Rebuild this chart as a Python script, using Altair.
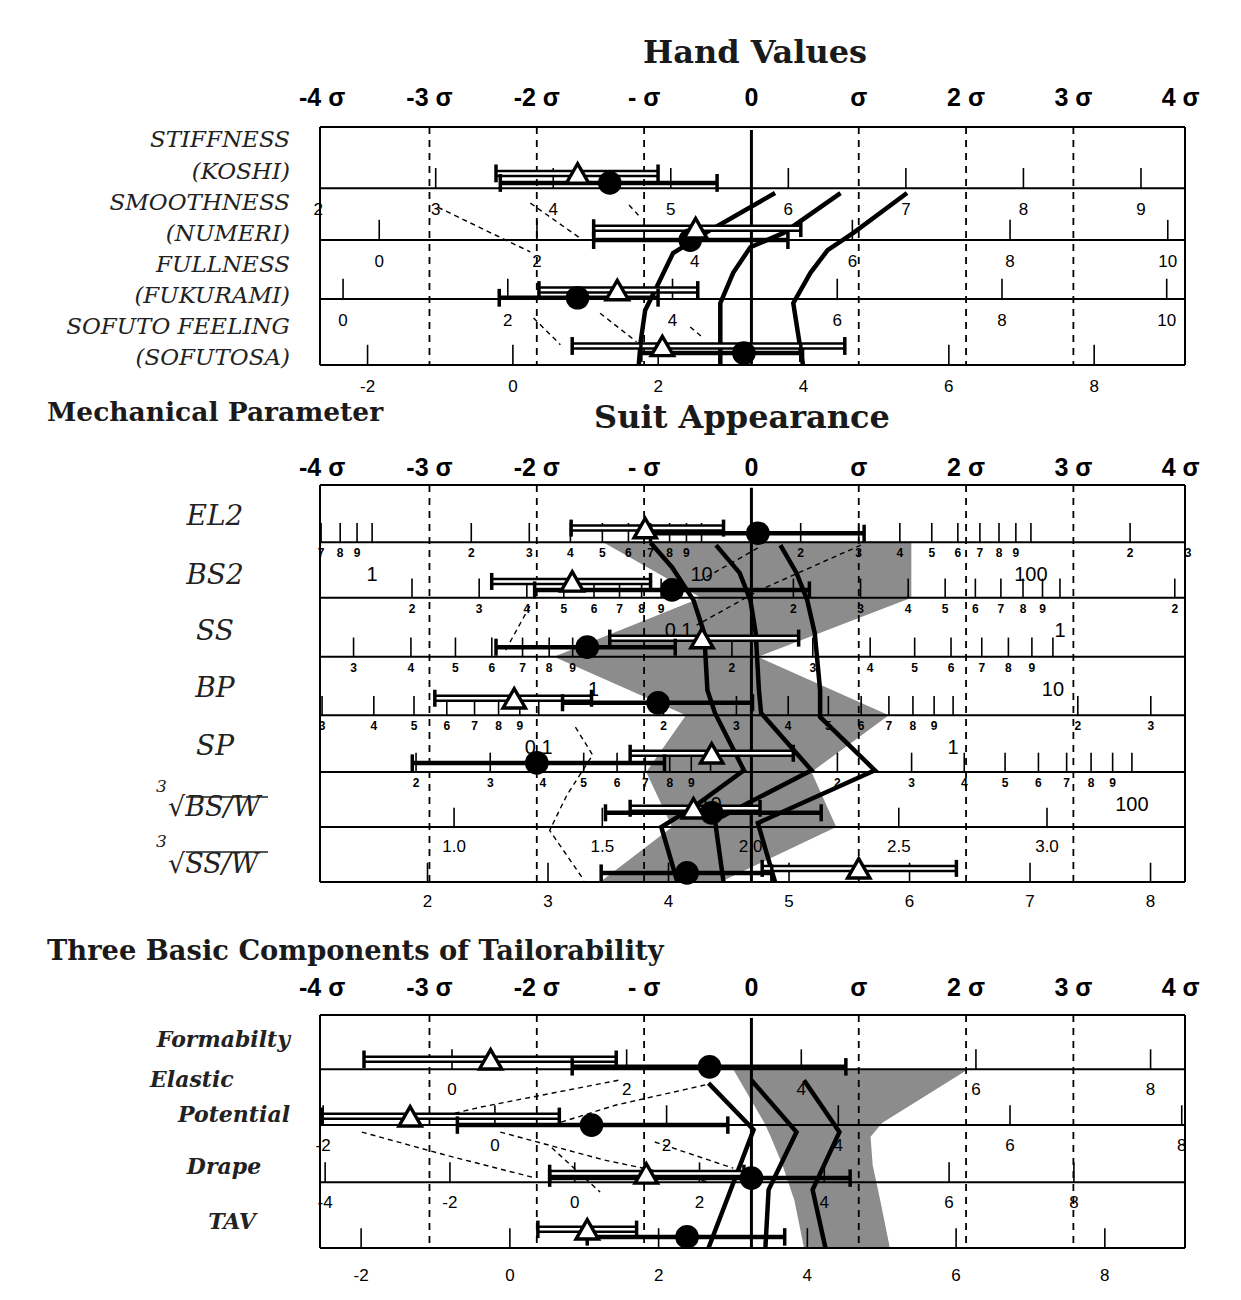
import math
import altair as alt
import pandas as pd

# ---------------- common ----------------
XMIN, XMAX = -4.02, 4.04
PLOT_W = 865
SIGMA_VALUES = [-4, -3, -2, -1, 0, 1, 2, 3, 4]
SIGMA_LABELS = ["-4 σ", "-3 σ", "-2 σ", "- σ", "0", "σ", "2 σ", "3 σ", "4 σ"]
DASHED_SIGMAS = [-3, -2, -1, 1, 2, 3]

SERIF = "DejaVu Serif"
SANS = "Liberation Sans"

# ---------------- Panel 1 : Hand Values ----------------
P1_NAME_1 = ["STIFFNESS", "SMOOTHNESS", "FULLNESS", "SOFUTO FEELING"]
P1_NAME_2 = ["(KOSHI)", "(NUMERI)", "(FUKURAMI)", "(SOFUTOSA)"]
P1_TRI = [-1.62, -0.52, -1.25, -0.83]
P1_TRI_LO = [-2.38, -1.47, -1.98, -1.67]
P1_TRI_HI = [-0.87, 0.46, -0.50, 0.87]
P1_TRI_Y = [0.78, 1.70, 2.74, 3.68]
P1_CIR = [-1.32, -0.57, -1.62, -0.07]
P1_CIR_LO = [-2.34, -1.47, -2.35, -1.03]
P1_CIR_HI = [-0.32, 0.34, -0.87, 0.46]
P1_CIR_Y = [0.94, 1.90, 2.87, 3.80]
P1_KIND = ["lin", "lin", "lin", "lin"]
P1_MEAN = [5.686, 4.72, 4.958, 3.283]
P1_SD = [0.913, 1.361, 1.303, 1.477]
P1_TICKS = [[2, 3, 4, 5, 6, 7, 8, 9], [0, 2, 4, 6, 8, 10], [0, 2, 4, 6, 8, 10], [-2, 0, 2, 4, 6, 8]]
P1_FMT = ["{:g}"] * 4
P1_LINES_X = [
    [0.22, -0.38, -0.73, -0.91, -0.99, -1.03, -1.05],
    [0.83, 0.30, -0.01, -0.17, -0.29, -0.29],
    [1.45, 0.95, 0.71, 0.55, 0.39, 0.48],
]
P1_LINES_Y = [
    [1.11, 1.73, 2.12, 2.79, 3.08, 3.58, 4.0],
    [1.11, 1.78, 2.02, 2.45, 2.96, 4.0],
    [1.11, 1.78, 2.07, 2.45, 2.96, 4.0],
]
P1_DASH_X = [[-2.92, -2.06], [-2.06, -1.61], [-1.14, -1.03], [-2.03, -1.78], [-1.41, -1.07], [-0.57, -0.46]]
P1_DASH_Y = [[1.35, 2.10], [1.28, 1.85], [1.31, 1.53], [3.21, 3.66], [3.13, 3.61], [3.36, 3.53]]

# ---------------- Panel 2 : Mechanical Parameter / Suit Appearance ----------------
P2_NAMES = ["EL2", "BS2", "SS", "BP", "SP"]
P2_RAD_NAMES = ["√BS/W", "√SS/W"]
P2_TRI = [-0.99, -1.67, -0.46, -2.21, -0.37, -0.54, 1.00]
P2_TRI_LO = [-1.68, -2.42, -1.32, -2.95, -1.13, -1.13, 0.10]
P2_TRI_HI = [-0.26, -0.94, 0.44, -1.49, 0.39, 0.08, 1.91]
P2_TRI_Y = [0.76, 1.70, 2.70, 3.76, 4.73, 5.70, 6.76]
P2_CIR = [0.06, -0.74, -1.53, -0.87, -2.00, -0.37, -0.60]
P2_CIR_LO = [-0.94, -2.02, -2.38, -1.76, -3.16, -1.36, -1.40]
P2_CIR_HI = [1.05, 0.54, -0.71, 0.01, -0.81, 0.65, 0.19]
P2_CIR_Y = [0.85, 1.85, 2.86, 3.84, 4.90, 5.78, 6.84]
P2_KIND = ["log", "log", "log", "log", "log", "lin", "lin"]
P2_MEAN = [1.1515, -0.809, 0.3435, -0.4867, 1.097, 2.003, 4.688]
P2_SD = [0.3258, 0.2814, 0.2337, 0.259, 0.2547, 0.362, 0.8906]
P2_LOG_RANGE = [(0.7, 300), (0.02, 2), (0.3, 10), (0.03, 3), (2, 100)]
P2_LIN_TICKS = [[1.0, 1.5, 2.0, 2.5, 3.0], [2, 3, 4, 5, 6, 7, 8]]
P2_FMT = ["", "", "", "", "", "{:.1f}", "{:g}"]
P2_LINES_X = [
    [-0.94, -0.74, -0.54, -0.44, -0.41, -0.34, -0.07, -0.54, -0.84, -0.69],
    [-0.33, -0.11, -0.01, 0.04, 0.07, 0.09, 0.56, -0.34, -0.26],
    [0.27, 0.42, 0.52, 0.59, 0.64, 0.64, 1.15, 0.06, 0.22],
]
P2_LINES_Y = [
    [1.02, 1.45, 2.03, 2.61, 3.62, 4.02, 5.03, 5.68, 6.03, 7.0],
    [1.06, 1.55, 2.03, 2.61, 3.62, 4.02, 5.03, 5.91, 7.0],
    [1.06, 1.55, 2.03, 2.61, 3.62, 4.09, 5.03, 5.96, 7.0],
]
P2_BAND_Y = [1.0, 1.99, 3.03, 4.06, 5.06, 6.03, 7.0]
P2_BAND_L = [-1.39, -0.47, -1.84, -0.61, -0.98, -0.74, -1.41]
P2_BAND_R = [1.49, 1.49, 0.06, 1.28, 0.56, 0.79, -0.29]
P2_DASH_X = [[1.02, 0.08, -0.51], [0.06, -0.47], [-2.29, -2.06], [-1.64, -1.48, -1.72, -1.88, -1.56]]
P2_DASH_Y = [[1.06, 1.85, 2.47], [1.11, 1.68], [2.91, 2.12], [4.27, 4.76, 5.47, 6.09, 6.97]]

# ---------------- Panel 3 : Three Basic Components of Tailorability ----------------
P3_NAMES = ["Formabilty", "Elastic", "Potential", "Drape", "TAV"]
P3_TRI = [-2.43, -3.18, -0.98, -1.53]
P3_TRI_LO = [-3.61, -4.0, -1.88, -1.99]
P3_TRI_HI = [-1.26, -1.79, -0.07, -1.07]
P3_TRI_Y = [0.76, 1.74, 2.72, 3.68]
P3_CIR = [-0.39, -1.49, 0.0, -0.60]
P3_CIR_LO = [-1.67, -2.74, -1.88, -1.53]
P3_CIR_HI = [0.88, -0.22, 0.92, 0.31]
P3_CIR_Y = [0.89, 1.89, 2.80, 3.81]
P3_KIND = ["lin", "lin", "lin", "lin"]
P3_MEAN = [3.429, 2.988, 2.832, 3.248]
P3_SD = [1.229, 1.25, 1.72, 1.443]
P3_TICKS = [[0, 2, 4, 6, 8], [-2, 0, 2, 4, 6, 8], [-4, -2, 0, 2, 4, 6, 8], [-2, 0, 2, 4, 6, 8]]
P3_FMT = ["{:g}"] * 4
P3_LINES_X = [[-0.40, 0.02, -0.40], [0.0, 0.42, 0.16, 0.13], [0.49, 0.82, 0.57, 0.69]]
P3_LINES_Y = [[1.17, 1.97, 4.0], [1.12, 2.01, 3.0, 4.0], [1.12, 2.01, 3.0, 4.0]]
P3_BAND_Y = [0.93, 1.85, 2.09, 2.58, 3.18, 4.0]
P3_BAND_L = [-0.17, 0.12, 0.18, 0.29, 0.40, 0.49]
P3_BAND_R = [2.02, 1.22, 1.11, 1.13, 1.20, 1.29]
P3_DASH_X = [[-1.24, -2.52, -2.96], [-0.43, -1.27, -1.86], [-3.63, -2.86, -2.01],
             [-2.34, -1.37, -0.39], [-1.86, -1.41], [-0.90, -0.17]]
P3_DASH_Y = [[1.12, 1.58, 1.77], [1.20, 1.55, 1.89], [2.01, 2.40, 2.80],
             [2.01, 2.49, 2.87], [2.28, 3.04], [2.18, 2.63]]

# ---------------- layout styles ----------------
P1_EDGES = [0, 1.03, 1.90, 2.89, 4.0]
P2_EDGES = [0, 1.01, 1.99, 3.03, 4.06, 5.06, 6.03, 7.0]
P3_EDGES = [0, 0.93, 1.89, 2.87, 4.0]

XSCALE = alt.Scale(domain=[XMIN, XMAX], nice=False, zero=False)


def decade_ticks(lo, hi):
    out = []
    k = math.floor(math.log10(lo))
    while 10 ** k <= hi * 1.001:
        for m in range(1, 10):
            v = m * 10 ** k
            if lo * 0.999 <= v <= hi * 1.001:
                out.append(v)
        k += 1
    return out


P2_TICKS = [decade_ticks(lo, hi) for lo, hi in P2_LOG_RANGE] + P2_LIN_TICKS


def to_sigma(v, kind, mean, sd):
    if kind == "log":
        return (math.log10(v) - mean) / sd
    return (v - mean) / sd


def make_panel(n, edges, ymin, height, tri, tri_lo, tri_hi, tri_y, cir, cir_lo, cir_hi, cir_y,
               kinds, means, sds, ticks, fmts, lab_dy, bottom_dy, lines_x, lines_y,
               dash_x, dash_y, band, sigma_dy, extra_layers, lin_size=17):
    ysc = alt.Scale(domain=[ymin, n], reverse=True, nice=False, zero=False)

    def X(f):
        return alt.X(f, type="quantitative", scale=XSCALE, axis=None)

    def Y(f):
        return alt.Y(f, type="quantitative", scale=ysc, axis=None)

    layers = []
    if band is not None:
        by, bl, br = band
        layers.append(alt.Chart(pd.DataFrame({"y": by, "l": bl, "r": br}))
                      .mark_area(orient="horizontal", color="#8c8c8c", opacity=1)
                      .encode(y=Y("y"), x=X("l"), x2="r"))
    layers.append(alt.Chart(pd.DataFrame({"x": DASHED_SIGMAS, "y1": 0, "y2": n}))
                  .mark_rule(color="black", strokeWidth=1.8, strokeDash=[7, 6])
                  .encode(x=X("x"), y=Y("y1"), y2="y2"))
    layers.append(alt.Chart(pd.DataFrame({"y": edges, "x1": XMIN, "x2": XMAX}))
                  .mark_rule(color="black", strokeWidth=2)
                  .encode(y=Y("y"), x=X("x1"), x2="x2"))
    layers.append(alt.Chart(pd.DataFrame({"x": [XMIN, XMAX], "y1": 0, "y2": n}))
                  .mark_rule(color="black", strokeWidth=2)
                  .encode(x=X("x"), y=Y("y1"), y2="y2"))
    layers.append(alt.Chart(pd.DataFrame({"x": [0], "y1": [0.05], "y2": [n]}))
                  .mark_rule(color="black", strokeWidth=3)
                  .encode(x=X("x"), y=Y("y1"), y2="y2"))
    tick_rows, lin_in, lin_last, log_small, log_big = [], [], [], [], []
    for i in range(n):
        base = edges[i + 1]
        for v in ticks[i]:
            s = to_sigma(v, kinds[i], means[i], sds[i])
            if XMIN <= s <= XMAX:
                tick_rows.append({"x": s, "y1": base, "y2": base - 0.34})
            if XMIN - 0.06 <= s <= XMAX + 0.06:
                if kinds[i] == "log":
                    m = round(v / 10 ** math.floor(math.log10(v) + 1e-9))
                    if m == 1:
                        log_big.append({"x": s, "y": base, "t": f"{v:g}"})
                    else:
                        log_small.append({"x": s, "y": base, "t": str(m)})
                else:
                    row = {"x": s, "y": base, "t": fmts[i].format(v)}
                    (lin_last if i == n - 1 else lin_in).append(row)
    layers.append(alt.Chart(pd.DataFrame(tick_rows)).mark_rule(color="black", strokeWidth=1.6)
                  .encode(x=X("x"), y=Y("y1"), y2="y2"))
    for rows, size, weight, dy in [(lin_in, lin_size, "normal", lab_dy), (lin_last, lin_size, "normal", bottom_dy),
                                   (log_small, 12, "bold", 11), (log_big, 20, "normal", 33)]:
        if rows:
            layers.append(alt.Chart(pd.DataFrame(rows))
                          .mark_text(font=SANS, fontSize=size, fontWeight=weight, dy=dy, baseline="middle")
                          .encode(x=X("x"), y=Y("y"), text="t:N"))
    drows = []
    for k, (xx, yy) in enumerate(zip(dash_x, dash_y)):
        for j, (a, b) in enumerate(zip(xx, yy)):
            drows.append({"seg": k, "o": j, "x": a, "y": b})
    layers.append(alt.Chart(pd.DataFrame(drows))
                  .mark_line(color="black", strokeWidth=1.4, strokeDash=[5, 4])
                  .encode(x=X("x"), y=Y("y"), detail="seg:N", order="o:Q"))
    lrows = []
    for k, (xx, yy) in enumerate(zip(lines_x, lines_y)):
        for j, (a, b) in enumerate(zip(xx, yy)):
            lrows.append({"line": k, "o": j, "x": a, "y": b})
    layers.append(alt.Chart(pd.DataFrame(lrows))
                  .mark_line(color="black", strokeWidth=4.5)
                  .encode(x=X("x"), y=Y("y"), detail="line:N", order="o:Q"))
    tdf = pd.DataFrame({"m": tri, "lo": tri_lo, "hi": tri_hi, "y": tri_y})
    cdf = pd.DataFrame({"m": cir, "lo": cir_lo, "hi": cir_hi, "y": cir_y})
    layers.append(alt.Chart(cdf).mark_rule(color="black", strokeWidth=4.5)
                  .encode(x=X("lo"), x2="hi", y=Y("y")))
    layers.append(alt.Chart(tdf).mark_rule(color="black", strokeWidth=7.5)
                  .encode(x=X("lo"), x2="hi", y=Y("y")))
    layers.append(alt.Chart(tdf).mark_rule(color="white", strokeWidth=2.5)
                  .encode(x=X("lo"), x2="hi", y=Y("y")))
    caps = []
    for df in (tdf, cdf):
        for _, r in df.iterrows():
            for v in (r["lo"], r["hi"]):
                caps.append({"x": v, "y1": r["y"] - 0.15, "y2": r["y"] + 0.15})
    layers.append(alt.Chart(pd.DataFrame(caps)).mark_rule(color="black", strokeWidth=3.5)
                  .encode(x=X("x"), y=Y("y1"), y2="y2"))
    layers.append(alt.Chart(cdf).mark_circle(size=560, color="black", opacity=1)
                  .encode(x=X("m"), y=Y("y")))
    layers.append(alt.Chart(tdf).mark_point(shape="triangle-up", size=500, filled=True, fill="white",
                                            stroke="black", strokeWidth=3.4, opacity=1)
                  .encode(x=X("m"), y=Y("y")))
    layers.append(alt.Chart(pd.DataFrame({"x": SIGMA_VALUES, "t": SIGMA_LABELS, "y": 0}))
                  .mark_text(font=SANS, fontSize=25, fontWeight="bold", dy=-sigma_dy, baseline="middle")
                  .encode(x=X("x"), y=Y("y"), text="t:N"))
    layers += [f(Y) for f in extra_layers]
    return alt.layer(*layers).properties(width=PLOT_W, height=height)


def text_const(t, x, y, size, weight="bold", align="center", style="normal"):
    return alt.Chart(pd.DataFrame({"t": [t]})).mark_text(
        font=SERIF, fontSize=size, fontWeight=weight, align=align, baseline="middle", fontStyle=style,
        color="#1a1a1a"
    ).encode(text="t:N", x=alt.value(x), y=alt.value(y))


P1_NAME_Y1 = [0.22, 1.28, 2.32, 3.36]
P1_NAME_Y2 = [0.76, 1.80, 2.84, 3.88]


def p1_names(Y):
    df = pd.DataFrame({"a": P1_NAME_1, "b": P1_NAME_2, "y1": P1_NAME_Y1, "y2": P1_NAME_Y2})
    base = alt.Chart(df).mark_text(font=SERIF, fontSize=23, fontStyle="italic", align="right",
                                   baseline="middle", color="#222")
    return alt.layer(
        base.encode(text="a:N", x=alt.value(-30), y=Y("y1")),
        base.encode(text="b:N", x=alt.value(-30), y=Y("y2")),
        text_const("Hand Values", 435, -74, 32),
    )


P2_NAME_Y = [0.56, 1.60, 2.60, 3.60, 4.62]
P2_RAD_Y = [5.70, 6.70]
P2_RAD3_Y = [5.33, 6.30]
P2_RADBAR_Y = [5.50, 6.47]


def p2_names(Y):
    df = pd.DataFrame({"t": P2_NAMES, "y": P2_NAME_Y})
    rad = pd.DataFrame({"t": P2_RAD_NAMES, "y": P2_RAD_Y, "y3": P2_RAD3_Y, "yb": P2_RADBAR_Y, "three": ["3", "3"]})
    return alt.layer(
        alt.Chart(df).mark_text(font=SERIF, fontSize=28, fontStyle="italic", align="center", baseline="middle",
                                color="#222").encode(text="t:N", x=alt.value(-105), y=Y("y")),
        alt.Chart(rad).mark_text(font=SERIF, fontSize=27, fontStyle="italic", align="left", baseline="middle",
                                 color="#222").encode(text="t:N", x=alt.value(-152), y=Y("y")),
        alt.Chart(rad).mark_text(font=SERIF, fontSize=17, fontStyle="italic", align="left", baseline="middle",
                                 color="#222").encode(text="three:N", x=alt.value(-164), y=Y("y3")),
        alt.Chart(rad).mark_rule(color="#222", strokeWidth=1.5).encode(
            x=alt.value(-134), x2=alt.value(-52), y=Y("yb")),
        text_const("Suit Appearance", 422, -67, 32),
        text_const("Mechanical Parameter", -273, -72, 26.5, align="left"),
    )


P3_NAME_X = [-30, -170, -30, -96, -88]
P3_NAME_ALIGN = ["right", "left", "right", "center", "center"]
P3_NAME_Y = [0.43, 1.12, 1.72, 2.61, 3.55]


def p3_names(Y):
    layers = []
    for t, x, a, y in zip(P3_NAMES, P3_NAME_X, P3_NAME_ALIGN, P3_NAME_Y):
        layers.append(alt.Chart(pd.DataFrame({"t": [t], "y": [y]})).mark_text(
            font=SERIF, fontSize=22, fontStyle="italic", fontWeight="bold", align=a, baseline="middle",
            color="#222").encode(text="t:N", x=alt.value(x), y=Y("y")))
    layers.append(text_const("Three Basic Components of Tailorability", -273, -50, 27.3, align="left"))
    return alt.layer(*layers)


p1 = make_panel(4, P1_EDGES, 0, 238, P1_TRI, P1_TRI_LO, P1_TRI_HI, P1_TRI_Y, P1_CIR, P1_CIR_LO, P1_CIR_HI,
                P1_CIR_Y, P1_KIND, P1_MEAN, P1_SD, P1_TICKS, P1_FMT, 22, 22, P1_LINES_X, P1_LINES_Y,
                P1_DASH_X, P1_DASH_Y, None, 29, [p1_names])
p2 = make_panel(7, P2_EDGES, 0, 397, P2_TRI, P2_TRI_LO, P2_TRI_HI, P2_TRI_Y, P2_CIR, P2_CIR_LO, P2_CIR_HI,
                P2_CIR_Y, P2_KIND, P2_MEAN, P2_SD, P2_TICKS, P2_FMT, 20, 20, P2_LINES_X, P2_LINES_Y,
                P2_DASH_X, P2_DASH_Y, (P2_BAND_Y, P2_BAND_L, P2_BAND_R), 17, [p2_names])
p3 = make_panel(4, P3_EDGES, -0.223, 246, P3_TRI, P3_TRI_LO, P3_TRI_HI, P3_TRI_Y, P3_CIR, P3_CIR_LO, P3_CIR_HI,
                P3_CIR_Y, P3_KIND, P3_MEAN, P3_SD, P3_TICKS, P3_FMT, 21, 28, P3_LINES_X, P3_LINES_Y,
                P3_DASH_X, P3_DASH_Y, (P3_BAND_Y, P3_BAND_L, P3_BAND_R), 27, [p3_names])

chart = alt.vconcat(p1, p2, p3, spacing=120, bounds="flush").properties(
    padding={"left": 39, "top": 29, "right": 10, "bottom": 5}
).configure_view(strokeWidth=0)

chart.save("out.html", embed_options={"renderer": "svg", "actions": False})
